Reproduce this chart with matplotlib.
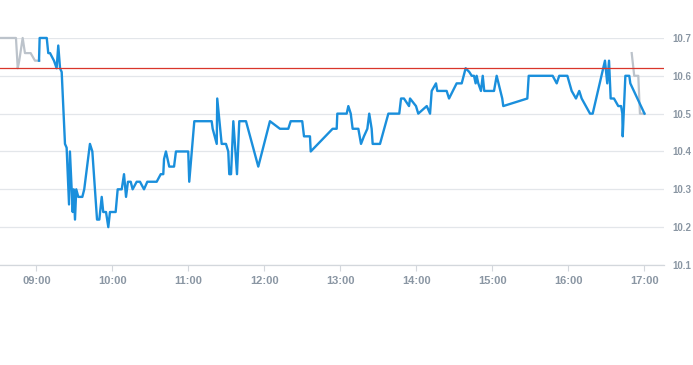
import numpy as np
import matplotlib
matplotlib.use("Agg")
import matplotlib.pyplot as plt

plt.rcParams['font.family'] = ['Liberation Sans', 'DejaVu Sans']

# 分钟数 (相对 09:00) 和价格
pre_min = [-28.8, -16.2, -14.8, -13.6, -10.9, -9.1, -4.6, -1.2, 2.2]
pre_px = [10.70, 10.70, 10.62, 10.64, 10.70, 10.66, 10.66, 10.64, 10.64]

main_min = [2.0, 2.5, 8.1, 9.3, 10.7, 13.8, 15.9, 17.2, 18.6, 19.9, 22.5, 23.8,
            25.7, 26.4, 28.6, 29.4, 30.4, 31.4, 33.0, 36.2, 37.7, 42.2, 44.1,
            47.8, 49.6, 51.5, 52.7, 54.9, 56.7, 58.0, 62.5, 64.1, 67.3, 69.1,
            70.7, 72.2, 74.4, 75.9, 79.1, 81.7, 84.9, 87.5, 94.9, 98.1, 100.1,
            100.7, 102.2, 104.8, 108.6, 110.1, 119.8, 120.6, 124.6, 138.3, 139.1,
            142.3, 142.7, 146.2, 149.6, 151.4, 152.2, 153.6, 155.4, 158.3, 160.1,
            165.4, 175.1, 184.3, 192.2, 198.8, 200.7, 209.8, 211.2, 215.9, 216.5,
            233.8, 237.0, 237.5, 244.9, 246.2, 248.1, 249.6, 254.1, 256.2, 258.5,
            261.2, 262.7, 264.6, 265.4, 271.2, 277.8, 286.4, 287.8, 290.1, 294.1,
            294.9, 299.6, 301.4, 308.1, 310.7, 312.0, 315.4, 316.4, 323.8, 325.7,
            331.7, 335.7, 338.8, 341.7, 343.6, 345.4, 346.7, 347.5, 348.8, 350.9,
            352.3, 353.5, 361.2, 363.3, 367.7, 368.5, 387.5, 388.6, 407.5, 410.7,
            412.7, 419.1, 422.5, 425.9, 428.5, 430.4, 437.0, 439.1, 448.8, 450.6,
            452.0, 453.3, 455.9, 459.3, 461.5, 462.5, 462.8, 464.9, 468.0, 468.8,
            480.0]
main_px = [10.64, 10.70, 10.70, 10.66, 10.66, 10.64, 10.62, 10.68, 10.62, 10.61, 10.42, 10.41,
           10.26, 10.40, 10.24, 10.30, 10.22, 10.30, 10.28, 10.28, 10.30, 10.42, 10.40,
           10.22, 10.22, 10.28, 10.24, 10.24, 10.20, 10.24, 10.24, 10.30, 10.30, 10.34,
           10.28, 10.32, 10.32, 10.30, 10.32, 10.32, 10.30, 10.32, 10.32, 10.34, 10.34,
           10.38, 10.40, 10.36, 10.36, 10.40, 10.40, 10.32, 10.48, 10.48, 10.46,
           10.42, 10.54, 10.42, 10.42, 10.40, 10.34, 10.34, 10.48, 10.34, 10.48,
           10.48, 10.36, 10.48, 10.46, 10.46, 10.48, 10.48, 10.44, 10.44, 10.40,
           10.46, 10.46, 10.50, 10.50, 10.52, 10.50, 10.46, 10.46, 10.42, 10.44,
           10.46, 10.50, 10.46, 10.42, 10.42, 10.50, 10.50, 10.54, 10.54, 10.52,
           10.54, 10.52, 10.50, 10.52, 10.50, 10.56, 10.58, 10.56, 10.56, 10.54,
           10.58, 10.58, 10.62, 10.61, 10.60, 10.60, 10.58, 10.60, 10.58, 10.56,
           10.60, 10.56, 10.56, 10.60, 10.54, 10.52, 10.54, 10.60, 10.60, 10.58,
           10.60, 10.60, 10.56, 10.54, 10.56, 10.54, 10.50, 10.50, 10.64, 10.58,
           10.64, 10.54, 10.54, 10.52, 10.52, 10.50, 10.44, 10.60, 10.60, 10.58,
           10.50]

post_min = [469.9, 471.9, 475.1, 476.4, 480.0]
post_px = [10.66, 10.60, 10.60, 10.50, 10.50]

ref_price = 10.62
y_ticks = [10.1, 10.2, 10.3, 10.4, 10.5, 10.6, 10.7]
x_ticks = [0, 60, 120, 180, 240, 300, 360, 420, 480]
x_labels = ["09:00", "10:00", "11:00", "12:00", "13:00", "14:00", "15:00", "16:00", "17:00"]

fig = plt.figure(figsize=(6.93, 3.65), dpi=100)
ax = fig.add_axes([0, 0.274, 664 / 693, 0.896 - 0.274])

label_color = "#8a96a3"
grid_color = "#e3e6ea"

for v in y_ticks:
    ax.axhline(v, color=grid_color, lw=0.9, zorder=0)

ax.plot(pre_min, pre_px, color="#bcc3cb", lw=1.6, clip_on=False, zorder=2)
ax.plot(post_min, post_px, color="#bcc3cb", lw=1.6, clip_on=False, zorder=2)
ax.plot(main_min, main_px, color="#1a8fdc", lw=1.7, clip_on=False, zorder=3)
ax.axhline(ref_price, color="#d9362b", lw=0.9, zorder=4)

ax.set_xlim(-28.8, 495.4)
ax.set_ylim(10.1, 10.7)

for s in ["left", "top", "right"]:
    ax.spines[s].set_visible(False)
ax.spines["bottom"].set_color("#d3d7dc")
ax.spines["bottom"].set_linewidth(0.9)

ax.set_xticks(x_ticks)
ax.set_xticklabels(x_labels)
ax.tick_params(axis="x", length=4, color="#d3d7dc", labelsize=8,
               labelcolor=label_color, pad=4)
for t in ax.get_xticklabels():
    t.set_fontweight("bold")

ax.yaxis.tick_right()
ax.set_yticks(y_ticks)
ax.set_yticklabels([f"{v:.1f}" for v in y_ticks])
ax.tick_params(axis="y", length=0, labelsize=7, labelcolor=label_color, pad=6.3)
for t in ax.get_yticklabels():
    t.set_fontweight("bold")

fig.savefig("out.png", dpi=100, facecolor="white")
